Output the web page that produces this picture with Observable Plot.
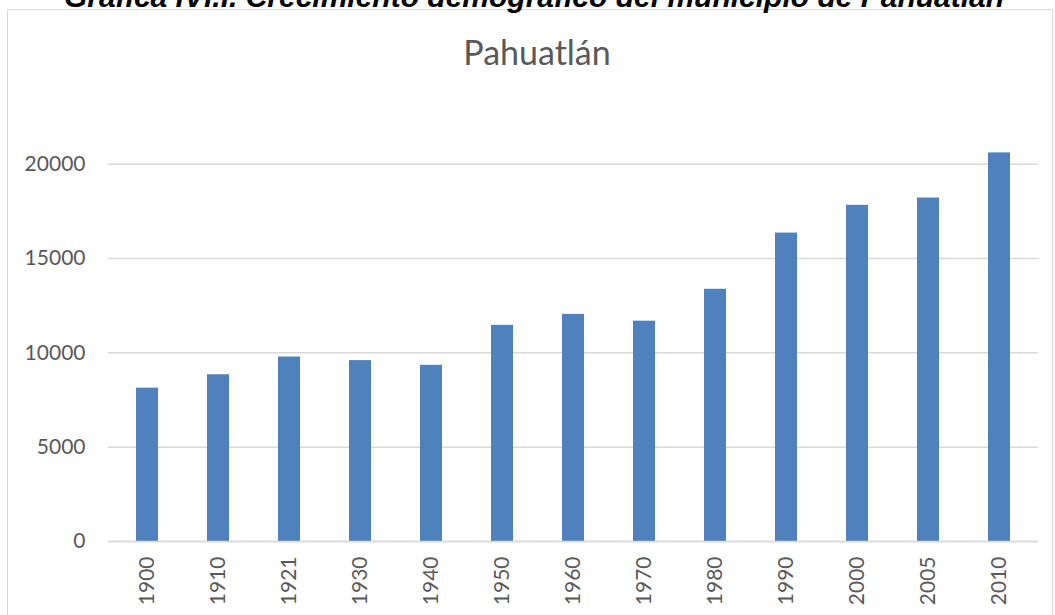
<!DOCTYPE html>
<html>
<head>
<meta charset="utf-8">
<script src="https://cdn.jsdelivr.net/npm/d3@7"></script>
<script src="https://cdn.jsdelivr.net/npm/@observablehq/plot@0.6"></script>
<style>
  html, body { margin: 0; padding: 0; background: #fff; }
  #wrap { position: relative; width: 1055px; height: 615px; overflow: hidden; background: #fff; }
  #box { position: absolute; left: 7px; top: 9px; width: 1046px; height: 700px; border: 1.5px solid #d9d9d9; box-sizing: border-box; }
  #doctitle { position: absolute; left: 0; width: 1068px; top: -18px; text-align: center; font-family: "Liberation Sans", Arial, sans-serif; font-weight: bold; font-style: italic; font-size: 30px; line-height: 30px; color: #000; white-space: nowrap; }
  #charttitle { position: absolute; left: 0; width: 1074px; top: 35px; text-align: center; font-family: Lato, sans-serif; font-size: 34px; line-height: 34px; color: #595959; }
  #plot { position: absolute; left: 0; top: 0; }
</style>
</head>
<body>
<div id="wrap">
  <div id="box"></div>
  <div id="doctitle">Gráfica IVI.I. Crecimiento demográfico del municipio de Pahuatlán</div>
  <div id="charttitle">Pahuatlán</div>
  <div id="plot"></div>
</div>
<script>
const years = ["1900","1910","1921","1930","1940","1950","1960","1970","1980","1990","2000","2005","2010"];
const population = [8130, 8840, 9780, 9590, 9340, 11460, 12040, 11680, 13370, 16350, 17820, 18210, 20600];
const yTicks = [0, 5000, 10000, 15000, 20000];

const data = years.map((year, i) => ({year, value: population[i]}));

const chart = Plot.plot({
  width: 1055,
  height: 615,
  marginLeft: 108,
  marginRight: 17,
  marginTop: 126,
  marginBottom: 74,
  style: {background: "transparent", fontFamily: "Lato, sans-serif", fontSize: "21px", color: "#595959", overflow: "visible"},
  x: {domain: years, paddingInner: 0.69, paddingOuter: 0.345, label: null},
  y: {domain: [0, 22000], label: null},
  marks: [
    Plot.gridY(yTicks, {stroke: "#d9d9d9", strokeOpacity: 1, strokeWidth: 1.5}),
    Plot.barY(data, {x: "year", y: "value", fill: "#4F81BD"}),
    Plot.ruleY([0], {stroke: "#d9d9d9", strokeWidth: 1.5}),
    Plot.axisY(yTicks, {tickSize: 0, tickPadding: 23, tickFormat: d => String(d), fill: "#595959", label: null}),
    Plot.axisX({tickSize: 0, tickRotate: -90, tickPadding: 15, fill: "#595959", label: null})
  ]
});
document.getElementById("plot").appendChild(chart);
</script>
</body>
</html>
